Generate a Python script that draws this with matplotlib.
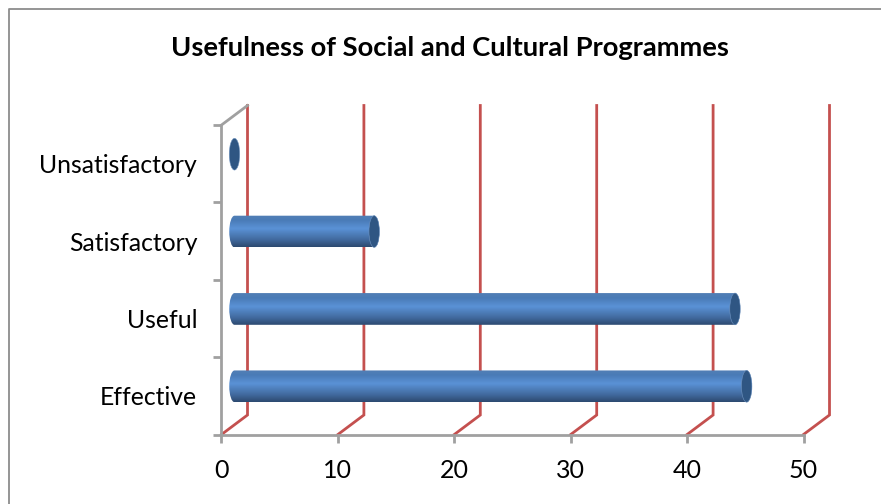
import matplotlib
matplotlib.use('Agg')
import matplotlib.pyplot as plt
import numpy as np
from matplotlib.lines import Line2D
from matplotlib.patches import Ellipse, PathPatch
from matplotlib.path import Path
from matplotlib.transforms import Affine2D

categories = ['Effective', 'Useful', 'Satisfactory', 'Unsatisfactory']
values = [44, 43, 12, 0]
x_ticks = [0, 10, 20, 30, 40, 50]
title = 'Usefulness of Social and Cultural Programmes'

plt.rcParams['font.family'] = ['Lato', 'DejaVu Sans']

W, H = 881, 504
GREY = '#A0A0A0'
RED = '#C4504F'
DARK = '#2F5683'

fig = plt.figure(figsize=(W / 100, H / 100), dpi=100)
ax = fig.add_axes([221.5 / W, (H - 434.5) / H, 582 / W, 309.5 / H])
ax.set_xlim(0, 50)
ax.set_ylim(0, 4)

# chart border, only top and left are inside the crop
fig.add_artist(Line2D([8.5 / W, 8.5 / W, 1], [0, (H - 8.5) / H, (H - 8.5) / H],
                      color='#8C8C8C', lw=1.3, transform=fig.transFigure))

for s in ['top', 'right']:
    ax.spines[s].set_visible(False)
for s in ['left', 'bottom']:
    ax.spines[s].set_color(GREY)
    ax.spines[s].set_linewidth(2.0)

ax.set_xticks(x_ticks)
ax.set_xticklabels(x_ticks, fontsize=18)
ax.set_yticks(range(len(categories) + 1))
ax.set_yticklabels([])
ax.set_yticks([i + 0.5 for i in range(len(categories))], minor=True)
ax.set_yticklabels(categories, minor=True, fontsize=17.8)
ax.tick_params(axis='x', which='major', length=6, width=2.0, color=GREY, pad=12)
ax.tick_params(axis='y', which='major', length=6, width=2.0, color=GREY)
ax.tick_params(axis='y', which='minor', length=0, pad=17.5)

# pixel offsets of the 3d depth
data_px = ax.transData
back_tr = data_px + Affine2D().translate(26, 19.5)
mid_tr = data_px + Affine2D().translate(13, 9.5)

# gridlines on floor and back wall
for t in x_ticks:
    p0 = data_px.transform((t, 0))
    p1 = back_tr.transform((t, 0))
    p2 = back_tr.transform((t, 4))
    xs, ys = zip(p0, p1, p2)
    fig.add_artist(Line2D(np.array(xs) / W, np.array(ys) / H, color=RED, lw=2.0,
                          solid_joinstyle='miter', transform=fig.transFigure, zorder=1))

# grey top edge of the side wall
p0 = data_px.transform((0, 4))
p1 = back_tr.transform((0, 4))
fig.add_artist(Line2D([p0[0] / W, p1[0] / W], [p0[1] / H, p1[1] / H], color=GREY, lw=2.0,
                      transform=fig.transFigure, zorder=1.5))

# cylinders
ax.patch.set_alpha(0)
ax.set_zorder(3)
bar_h = 0.41
cap_w = 0.45
grad = np.linspace(0, 1, 64).reshape(-1, 1)
cmap = matplotlib.colors.LinearSegmentedColormap.from_list(
    'cyl', [(0, '#2D4A70'), (0.22, '#41699D'), (0.58, '#5A92D6'), (0.85, '#4A7BB7'), (1, '#527FB5')])

for i, v in enumerate(values):
    yc = i + 0.5
    if v > 0:
        k = 0.5523
        y0, y1 = yc - bar_h / 2, yc + bar_h / 2
        verts = [(v, y0), (0, y0),
                 (-cap_w * k, y0), (-cap_w, yc - bar_h / 2 * k), (-cap_w, yc),
                 (-cap_w, yc + bar_h / 2 * k), (-cap_w * k, y1), (0, y1),
                 (v, y1),
                 (v + cap_w * k, y1), (v + cap_w, yc + bar_h / 2 * k), (v + cap_w, yc),
                 (v + cap_w, yc - bar_h / 2 * k), (v + cap_w * k, y0), (v, y0),
                 (v, y0)]
        codes = [Path.MOVETO, Path.LINETO,
                 Path.CURVE4, Path.CURVE4, Path.CURVE4,
                 Path.CURVE4, Path.CURVE4, Path.CURVE4,
                 Path.LINETO,
                 Path.CURVE4, Path.CURVE4, Path.CURVE4,
                 Path.CURVE4, Path.CURVE4, Path.CURVE4,
                 Path.CLOSEPOLY]
        body = PathPatch(Path(verts, codes), transform=mid_tr, fc='none', ec='none')
        ax.add_patch(body)
        im = ax.imshow(grad, cmap=cmap, aspect='auto', origin='lower',
                       extent=(-cap_w, v + cap_w, y0, y1), interpolation='bilinear',
                       transform=mid_tr, zorder=2)
        im.set_clip_path(body)
    ax.add_patch(Ellipse((v, yc), cap_w * 2, bar_h, transform=mid_tr, fc=DARK,
                         ec='#6F93BF', lw=0.4, zorder=3, clip_on=False))

ax.set_xlim(0, 50)
ax.set_ylim(0, 4)

fig.text(450 / W, (H - 48) / H, title, ha='center', va='center',
         fontsize=19.7, fontweight='bold', color='black')

fig.savefig('out.png', dpi=100)
